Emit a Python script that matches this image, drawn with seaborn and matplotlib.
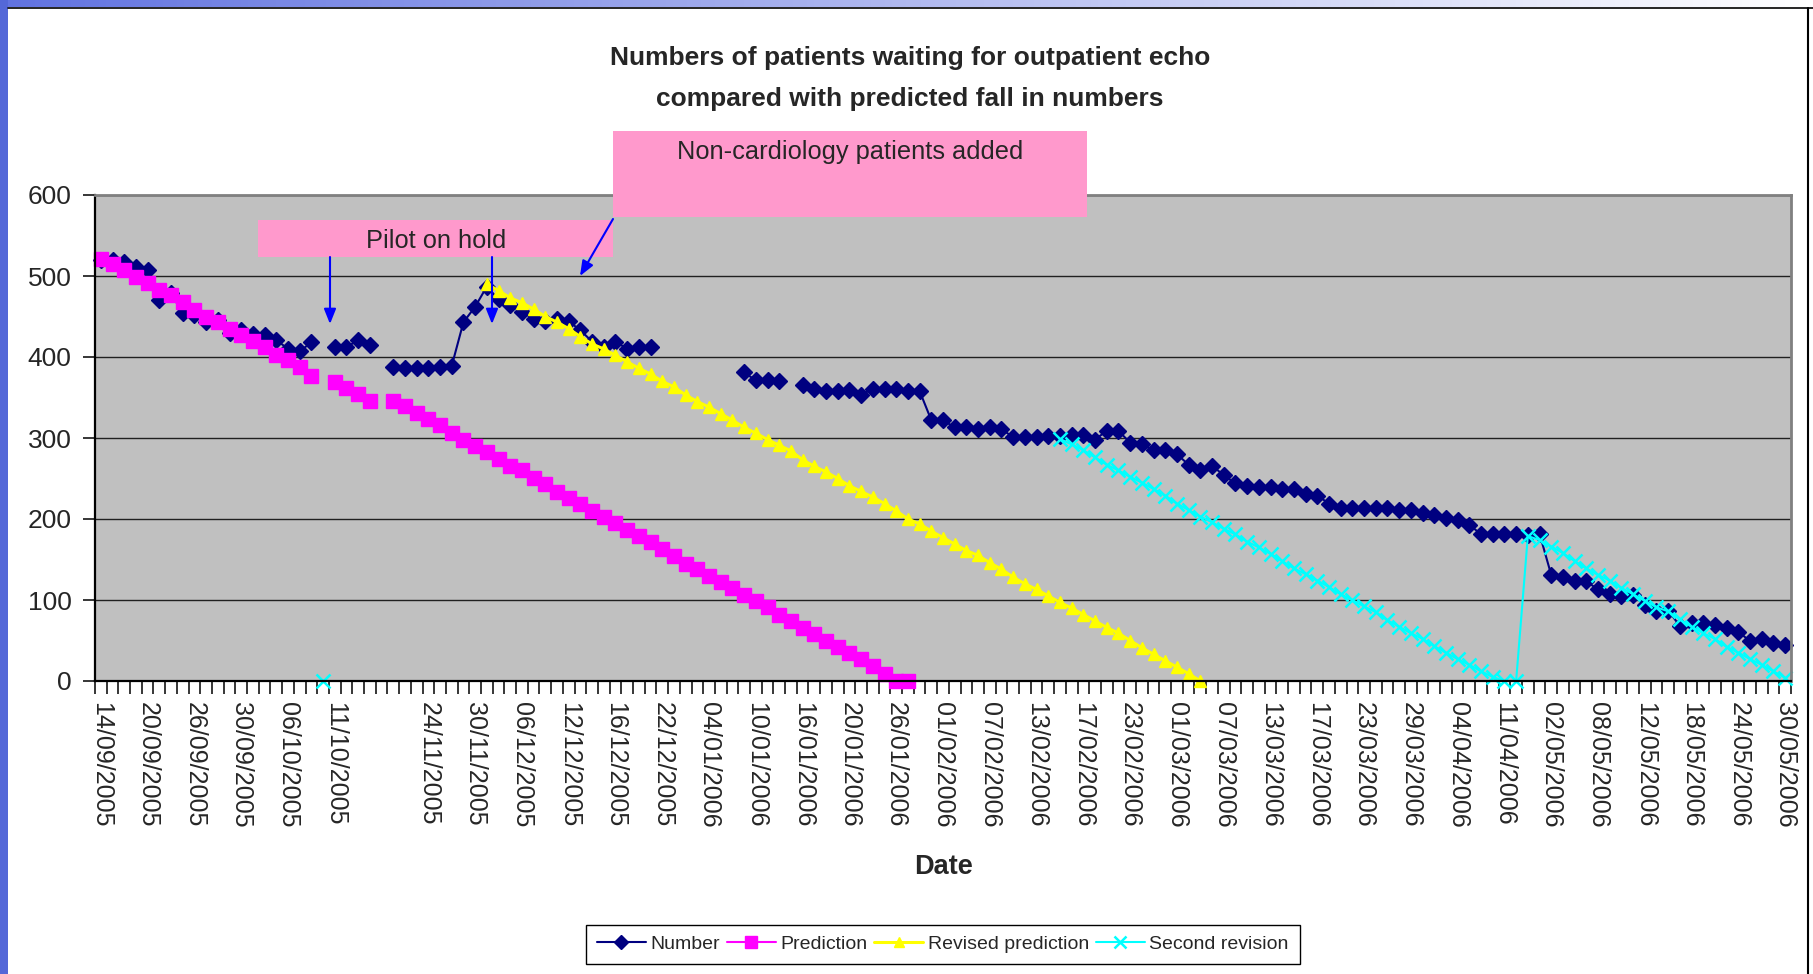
import numpy as np
import pandas as pd
import seaborn as sns
import matplotlib
matplotlib.use("Agg")
import matplotlib.pyplot as plt
from matplotlib.lines import Line2D
from matplotlib.patches import Rectangle, FancyArrowPatch

# ---- data (one category per data row, 145 rows) ----
n_rows = 145
tick_labels = ["14/09/2005", "20/09/2005", "26/09/2005", "30/09/2005", "06/10/2005",
               "11/10/2005", "", "24/11/2005", "30/11/2005", "06/12/2005",
               "12/12/2005", "16/12/2005", "22/12/2005", "04/01/2006", "10/01/2006",
               "16/01/2006", "20/01/2006", "26/01/2006", "01/02/2006", "07/02/2006",
               "13/02/2006", "17/02/2006", "23/02/2006", "01/03/2006", "07/03/2006",
               "13/03/2006", "17/03/2006", "23/03/2006", "29/03/2006", "04/04/2006",
               "11/04/2006", "02/05/2006", "08/05/2006", "12/05/2006", "18/05/2006",
               "24/05/2006", "30/05/2006"]
label_step = 4

number = [520, 520, 517, 511, 508, 470, 479, 454, 452, 443,
          446, 430, 433, 428, 427, 421, 410, 407, 418, None,
          412, 412, 421, 415, None, 388, 386, 386, 387, 388,
          389, 443, 462, 487, 471, 464, 456, 447, 444, 447,
          444, 433, 419, 412, 419, 410, 412, 412, None, None,
          None, None, None, None, None, 381, 371, 371, 370, None,
          366, 361, 358, 358, 359, 353, 361, 361, 361, 358,
          358, 322, 322, 313, 313, 311, 314, 311, 301, 301,
          301, 303, 303, 304, 304, 298, 309, 309, 294, 292,
          285, 285, 280, 267, 260, 266, 254, 244, 241, 239,
          239, 237, 237, 231, 229, 219, 214, 214, 214, 214,
          214, 211, 211, 208, 205, 201, 199, 193, 181, 182,
          182, 181, 180, 182, 131, 128, 123, 123, 113, 108,
          105, 106, 94, 87, 87, 68, 71, 72, 69, 66,
          61, 49, 52, 47, 45]

prediction_start = 0
prediction = [521, 515, 507, 499, 491, 483, 476, 468, 458, 450,
              443, 435, 427, 420, 412, 403, 396, 388, 377, None,
              369, 362, 354, 346, None, 346, 339, 331, 323, 316,
              306, 298, 290, 283, 274, 266, 260, 251, 243, 233,
              226, 218, 210, 203, 195, 186, 179, 171, 163, 154,
              145, 138, 130, 122, 115, 106, 99, 91, 81, 74,
              65, 58, 50, 42, 34, 27, 19, 9, 0, 0]

revised_start = 33
revised = [490, 482, 473, 467, 459, 450, 443, 435, 425, 416,
           410, 402, 394, 386, 379, 370, 363, 353, 345, 338,
           330, 322, 313, 306, 298, 291, 284, 273, 265, 258,
           250, 241, 234, 227, 219, 210, 200, 194, 185, 177,
           169, 161, 155, 146, 138, 128, 120, 113, 105, 97,
           90, 82, 74, 66, 59, 50, 41, 33, 25, 17,
           9, 0]

second_stray_row, second_stray_value = 19, 0
second_start = 82
second = [299, 292, 285, 276, 267, 260, 252, 245, 237, 229,
          219, 211, 203, 196, 188, 181, 172, 165, 157, 148,
          139, 132, 124, 116, 107, 100, 92, 85, 75, 67,
          59, 52, 43, 35, 27, 20, 12, 5, 0, 0,
          179, 174, 166, 158, 148, 139, 131, 124, 115, 107,
          99, 91, 86, 76, 67, 59, 52, 42, 35, 27,
          20, 12, 4]


def full_column(start, values):
    col = [None] * n_rows
    col[start:start + len(values)] = values
    return col


second_col = full_column(second_start, second)
second_col[second_stray_row] = second_stray_value

wide = pd.DataFrame({
    "row": np.arange(n_rows),
    "Number": number,
    "Prediction": full_column(prediction_start, prediction),
    "Revised prediction": full_column(revised_start, revised),
    "Second revision": second_col,
}).astype(float)

series_style = {
    "Number": dict(color="#000080", marker="D", ms=7.8, mew=1.0, lw=1.5),
    "Prediction": dict(color="#FF00FF", marker="s", ms=9.5, mew=1.0, lw=1.5),
    "Revised prediction": dict(color="#FFFF00", marker="^", ms=8.8, mew=1.0, lw=2.2),
    "Second revision": dict(color="#00FFFF", marker="x", ms=9.5, mew=1.8, lw=1.5),
}

# long format, a new segment wherever a value is missing so the line breaks there
frames = []
for name in series_style:
    s = wide[["row", name]].rename(columns={name: "value"})
    s["seg"] = s["value"].isna().cumsum()
    s = s.dropna()
    s["series"] = name
    frames.append(s)
long_df = pd.concat(frames, ignore_index=True)

sns.set_theme(style="ticks")
plt.rcParams["font.family"] = ["Liberation Sans", "DejaVu Sans"]

W, H = 1813, 974


def fx(x):
    return x / W


def fy(y):
    return 1 - y / H


fig = plt.figure(figsize=(W / 100, H / 100), dpi=100, facecolor="white")
ax = fig.add_axes([fx(95), fy(681), fx(1791) - fx(95), fy(195) - fy(681)])
ax.set_facecolor("#C0C0C0")

for name, st in series_style.items():
    sub = long_df[long_df["series"] == name]
    sns.lineplot(data=sub, x="row", y="value", units="seg", estimator=None, sort=False,
                 color=st["color"], marker=st["marker"], markersize=st["ms"],
                 markeredgecolor=st["color"], markeredgewidth=st["mew"],
                 linewidth=st["lw"], legend=False, ax=ax, clip_on=False)

ax.set_xlim(-0.5, n_rows - 0.5)
ax.set_ylim(0, 600)
ax.set_yticks(range(0, 601, 100))
ax.yaxis.grid(True, color="#202020", linewidth=1.0)
ax.xaxis.grid(False)
ax.set_axisbelow(True)

ax.set_xticks(np.arange(-0.5, n_rows, 1), minor=True)
ax.set_xticks(np.arange(0, n_rows, label_step))
ax.set_xticklabels(tick_labels, rotation=270, fontsize=18)
ax.tick_params(axis="x", which="major", length=0, pad=15)
ax.tick_params(axis="x", which="minor", length=9, width=1.1, color="black", direction="out")
ax.tick_params(axis="y", length=9, width=1.1, color="black", direction="out", pad=8, labelsize=19)
ax.set_xlabel("")
ax.set_ylabel("")

for side in ("left", "bottom"):
    ax.spines[side].set_color("black")
    ax.spines[side].set_linewidth(1.6)
for side in ("top", "right"):
    ax.spines[side].set_visible(True)
    ax.spines[side].set_color("#808080")
    ax.spines[side].set_linewidth(2.0)

# ---- titles ----
fig.text(fx(910), fy(65), "Numbers of patients waiting for outpatient echo", ha="center",
         va="baseline", fontsize=19, fontweight="bold")
fig.text(fx(910), fy(106), "compared with predicted fall in numbers", ha="center",
         va="baseline", fontsize=19, fontweight="bold")
fig.text(fx(943), fy(874), "Date", ha="center", va="baseline", fontsize=19.5,
         fontweight="bold")

# ---- annotation boxes and arrows ----
pink = "#FF99CC"
fig.add_artist(Rectangle((fx(258), fy(257)), fx(613) - fx(258), fy(220) - fy(257),
                         transform=fig.transFigure, facecolor=pink, edgecolor="none", zorder=3))
fig.add_artist(Rectangle((fx(613), fy(217)), fx(1087) - fx(613), fy(131) - fy(217),
                         transform=fig.transFigure, facecolor=pink, edgecolor="none", zorder=3))
fig.text(fx(436), fy(241), "Pilot on hold", ha="center", va="center", fontsize=18.3,
         zorder=4)
fig.text(fx(850), fy(152), "Non-cardiology patients added", ha="center", va="center",
         fontsize=18.3, zorder=4)

for (x0, y0), (x1, y1) in [((330, 257), (330, 324)), ((492, 257), (492, 324)),
                           ((613, 219), (580, 276))]:
    fig.add_artist(FancyArrowPatch((fx(x0), fy(y0)), (fx(x1), fy(y1)),
                                   transform=fig.transFigure,
                                   arrowstyle="-|>,head_length=0.5,head_width=0.2",
                                   mutation_scale=18, color="#0000FF", lw=1.5, zorder=5,
                                   shrinkA=0, shrinkB=0))

# ---- legend ----
handles = [Line2D([], [], color=st["color"], marker=st["marker"], markersize=st["ms"] * 0.85,
                  markeredgecolor=st["color"], markeredgewidth=st["mew"], linewidth=st["lw"])
           for st in series_style.values()]
leg = fig.legend(handles, list(series_style), loc="center", bbox_to_anchor=(fx(943), fy(944)),
                 ncol=4, frameon=True, fancybox=False, edgecolor="black", framealpha=1,
                 prop={"size": 14}, handlelength=2.5, handletextpad=0.25,
                 columnspacing=0.35, borderpad=0.55, borderaxespad=0)
leg.get_frame().set_linewidth(1.0)

# ---- window frame around the chart ----
fig.add_artist(Rectangle((0, 0), fx(8), 1, transform=fig.transFigure,
                         facecolor="#5468D8", edgecolor="none", zorder=6))
grad_ax = fig.add_axes([0, fy(7), 1, fy(0) - fy(7)])
grad = np.linspace(0, 1, 256)[None, :, None]
start_rgb = np.array([0.38, 0.45, 0.88])
grad_ax.imshow(start_rgb + (1 - start_rgb) * grad, aspect="auto")
grad_ax.set_axis_off()
fig.add_artist(Line2D([fx(8), 1], [fy(8), fy(8)], transform=fig.transFigure,
                      color="black", lw=1.2, zorder=6))
fig.add_artist(Line2D([fx(1808), fx(1808)], [0, fy(8)], transform=fig.transFigure,
                      color="black", lw=1.5, zorder=6))

fig.savefig("out.png", dpi=100, facecolor="white")
